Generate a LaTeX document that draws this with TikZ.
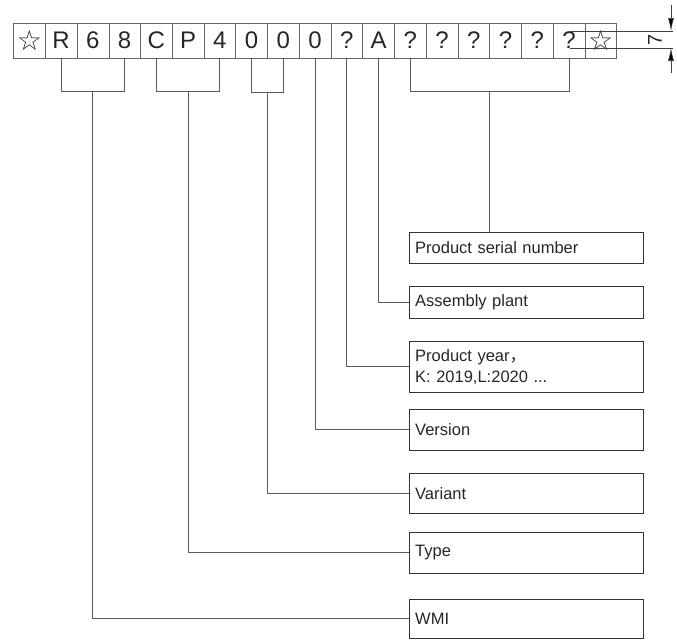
\documentclass[tikz,border=0pt]{standalone}
\usepackage{fontspec}
\setmainfont{Liberation Sans}
\newfontfamily\symfont{DejaVu Sans}
\newfontfamily\cjkfont{Noto Sans CJK SC}
\usetikzlibrary{arrows.meta, positioning, calc}
\newcommand{\staricon}{{\symfont\fontsize{28}{30}\selectfont\char"2606}}

\begin{document}
\begin{tikzpicture}[x=1pt, y=-1pt,
      cell/.style={rectangle, draw=black!60, text=black!85, minimum width=31.74pt, minimum height=35pt, inner sep=0pt, font=\fontsize{24}{28}\selectfont},
      field/.style={rectangle, draw=black!80, text=black!85, anchor=north west, minimum width=234pt, text width=222pt, align=left, inner sep=6pt, font=\fontsize{16.5}{21}\selectfont},
      link/.style={draw=black!65, line width=0.8pt},
      dimline/.style={draw=black!75, line width=0.6pt}]

      \useasboundingbox (0,0) rectangle (677,641);

      % Code cells
      \foreach \ch [count=\i] in {\staricon,R,6,8,C,P,4,0,0,0,?,A,?,?,?,?,?,?,\staricon} {
        \node[cell] (c\i) at ({13.5+31.74*(\i-0.5)}, 40.5) {\ch};
      }

      % Field boxes
      \node[field, minimum height=31pt] (serial) at (409,232) {Product serial number};
      \node[field, minimum height=32pt] (plant) at (409,286) {Assembly plant};
      \node[field, minimum height=51pt] (year) at (409,341) {Product year{\cjkfont ，}\\K: 2019,L:2020 ...};
      \node[field, minimum height=41pt] (version) at (409,409) {Version};
      \node[field, minimum height=40pt] (variant) at (409,473) {Variant};
      \node[field, minimum height=41pt] (type) at (409,532) {Type};
      \node[field, minimum height=39pt] (wmi) at (409,599) {WMI};

      % Brackets
      \draw[link] (c2.south) -- ++(0,33) -| (c4.south);
      \draw[link] (c5.south) -- ++(0,33) -| (c7.south);
      \draw[link] (c8.south) -- ++(0,34) -| (c9.south);
      \draw[link] (c13.south) -- ++(0,33) -| (c18.south);
      \coordinate (wmiJ) at ($(c2.south)!0.5!(c4.south)+(0,33)$);
      \coordinate (typeJ) at ($(c5.south)!0.5!(c7.south)+(0,33)$);
      \coordinate (varJ) at ($(c8.south)!0.5!(c9.south)+(0,34)$);
      \coordinate (serJ) at ($(c13.south)!0.5!(c18.south)+(0,33)$);

      % Leaders
      \draw[link] (serJ) -- (serJ |- serial.north);
      \draw[link] (c12.south) |- (plant.west);
      \draw[link] (c11.south) |- (year.west);
      \draw[link] (c10.south) |- (version.west);
      \draw[link] (varJ) |- (variant.west);
      \draw[link] (typeJ) |- (type.west);
      \draw[link] (wmiJ) |- (wmi.west);

      % Height dimension
      \coordinate (extA) at (570,31);
      \coordinate (extB) at (570,48);
      \coordinate (arrTop) at (671,5);
      \coordinate (arrBot) at (671,73);
      \draw[dimline] (extA) -- ++(103,0);
      \draw[dimline] (extB) -- ++(103,0);
      \draw[dimline, -{Latex[length=13pt,width=6pt,fill=black]}] (arrTop) -- (arrTop |- extA);
      \draw[dimline, -{Latex[length=13pt,width=6pt,fill=black]}] (arrBot) -- (arrBot |- extB);
      \node[rotate=90, text=black!85, font=\fontsize{20}{24}\selectfont] (dimtxt) at (655,40) {7};
    \end{tikzpicture}
\end{document}
